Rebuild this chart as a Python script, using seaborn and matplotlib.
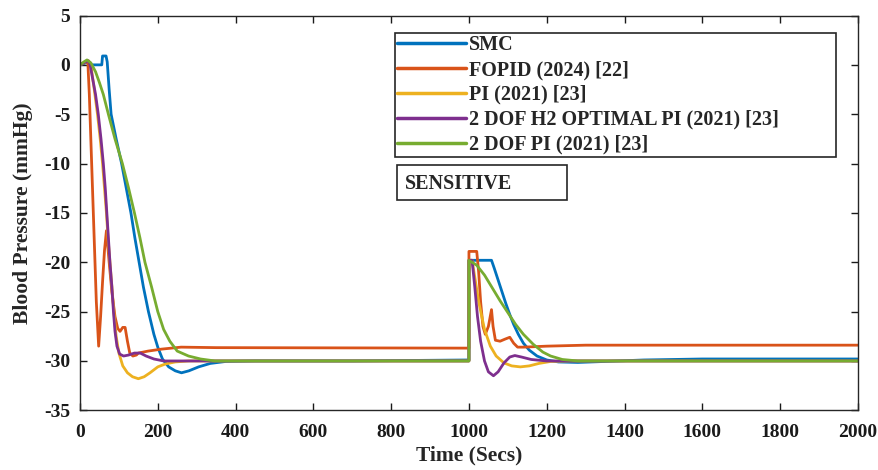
import matplotlib
matplotlib.use("Agg")
import matplotlib.pyplot as plt
import seaborn as sns
from matplotlib.patches import Rectangle

# readings from the reference chart (time in s, pressure change in mmHg)
smc_t = [0, 15, 22, 30, 56, 58, 67, 70, 75, 80, 93, 107, 119, 131, 141, 152, 163, 176, 190, 200,
         212, 228, 245, 261, 280, 305, 335, 375, 450, 700, 1000, 1000, 1058, 1065, 1075, 1085, 1095,
         1105, 1115, 1127, 1140, 1155, 1175, 1200, 1230, 1280, 1350, 1450, 1600, 2000]
smc_v = [0, 0.2, 0.3, 0, 0, 0.9, 0.9, 0.3, -2.5, -5, -7.5, -10, -12.5, -15, -17.5, -20, -22.5, -25, -27.3, -28.6,
         -29.8, -30.6, -31.0, -31.2, -31.0, -30.6, -30.25, -30.05, -30.0, -30.0, -29.9, -19.8, -19.8, -20.6, -21.8, -23.0, -24.2,
         -25.3, -26.3, -27.3, -28.2, -28.9, -29.5, -29.9, -30.1, -30.15, -30.05, -29.9, -29.8, -29.8]

fopid_t = [0, 15, 20, 24, 30, 36, 42, 48, 53, 58, 63, 68, 75, 82, 90, 97, 103, 110, 116, 122,
           128, 136, 145, 150, 175, 210, 260, 350, 1000, 1000, 1020, 1025, 1030, 1036, 1042, 1050, 1058,
           1062, 1068, 1080, 1092, 1105, 1115, 1125, 1140, 1200, 1300, 2000]
fopid_v = [0, 0.3, 0.4, -3, -10, -17, -24, -28.5, -25.5, -22, -18.8, -16.8, -20, -23, -25.5, -26.7, -27.0, -26.6, -26.6, -28,
           -29.2, -29.5, -29.4, -29.2, -29.0, -28.8, -28.6, -28.65, -28.7, -18.9, -18.9, -21, -24, -26.5, -27.3, -26.5, -24.8,
           -26.5, -27.9, -28.0, -27.8, -27.6, -28.2, -28.6, -28.6, -28.5, -28.4, -28.4]

pi_t = [0, 15, 22, 28, 35, 45, 52, 58, 63, 68, 72, 77, 82, 87, 93, 100, 110, 122, 135, 150,
        165, 180, 200, 220, 245, 280, 1000, 1000, 1008, 1015, 1025, 1040, 1055, 1070, 1090, 1110, 1132,
        1155, 1180, 1210, 1260, 2000]
pi_v = [0, 0.3, 0.4, 0, -2, -5, -7.5, -10, -12.5, -15, -17.5, -20, -22.5, -25, -27.5, -29.2, -30.5, -31.2, -31.6, -31.8,
        -31.6, -31.2, -30.6, -30.3, -30.1, -30.0, -30.0, -19.8, -19.8, -21.5, -24, -26.8, -28.5, -29.5, -30.2, -30.5, -30.6,
        -30.5, -30.25, -30.05, -30.0, -30.0]

h2_t = [0, 15, 22, 26, 33, 40, 47, 54, 60, 65, 69, 73, 77, 82, 86, 90, 95, 102, 112, 125,
        140, 155, 170, 190, 215, 1000, 1000, 1008, 1015, 1022, 1030, 1040, 1050, 1063, 1075, 1090, 1105,
        1118, 1135, 1160, 1200, 2000]
h2_v = [0, 0.3, 0.4, 0, -1.5, -3, -5, -7.5, -10, -12.5, -15, -17.5, -20, -22.5, -25, -27, -28.5, -29.3, -29.5, -29.4,
        -29.2, -29.2, -29.5, -29.8, -30.0, -30.0, -19.8, -19.8, -22.5, -25.5, -28, -30, -31.1, -31.5, -31.1, -30.2, -29.6,
        -29.45, -29.6, -29.85, -30.0, -30.0]

dof_t = [0, 10, 18, 28, 40, 50, 60, 73, 90, 109, 125, 140, 154, 167, 184, 200, 215, 231, 250, 279,
         310, 347, 400, 1000, 1000, 1020, 1040, 1060, 1080, 1100, 1120, 1140, 1165, 1190, 1210, 1240,
         1280, 2000]
dof_v = [0, 0.3, 0.5, 0.2, -0.7, -1.8, -3.0, -5, -7.5, -10, -12.5, -15, -17.5, -20, -22.5, -25, -26.8, -28, -29, -29.5,
         -29.8, -30.0, -30.0, -30.0, -19.8, -20.3, -21.3, -22.6, -23.9, -25.1, -26.3, -27.3, -28.3, -29.1, -29.5, -29.85,
         -30.0, -30.0]

series = [
    ("SMC", smc_t, smc_v, "#0072BD"),
    ("FOPID (2024) [22]", fopid_t, fopid_v, "#D95319"),
    ("PI (2021) [23]", pi_t, pi_v, "#EDB120"),
    ("2 DOF H2 OPTIMAL PI (2021) [23]", h2_t, h2_v, "#7E2F8E"),
    ("2 DOF PI (2021) [23]", dof_t, dof_v, "#77AC30"),
]

sns.set_style("ticks")
plt.rcParams["font.family"] = ["Liberation Serif", "DejaVu Serif"]
plt.rcParams["font.weight"] = "bold"
plt.rcParams["axes.unicode_minus"] = False

fig = plt.figure(figsize=(8.79, 4.70), dpi=100)
ax = fig.add_axes([0.091, 0.127, 0.885, 0.840])

for name, t, v, c in series:
    sns.lineplot(x=t, y=v, ax=ax, color=c, linewidth=2.0, label=name,
                 sort=False, estimator=None)

ax.set_xlim(0, 2000)
ax.set_ylim(-35, 5)
ax.set_xticks(range(0, 2001, 200))
ax.set_yticks(range(-35, 6, 5))
ax.tick_params(direction="in", top=True, right=True, length=5, width=1,
               labelsize=14, colors="#1a1a1a")
ax.tick_params(axis="x", pad=10)
ax.tick_params(axis="y", pad=7)
for lab in ax.get_xticklabels() + ax.get_yticklabels():
    lab.set_fontweight("bold")
for sp in ax.spines.values():
    sp.set_linewidth(1.0)
    sp.set_color("#262626")

ax.set_xlabel("Time (Secs)", fontsize=15.5, fontweight="bold", labelpad=3)
ax.set_ylabel("Blood Pressure (mmHg)", fontsize=15.5, fontweight="bold", labelpad=8)

leg = ax.legend(loc="upper left", bbox_to_anchor=(0.405, 0.645, 0.567, 0.311),
                mode="expand", fontsize=14.5,
                frameon=True, fancybox=False, edgecolor="#262626", framealpha=1,
                handlelength=3.4, handletextpad=0.15, labelspacing=0.24,
                borderpad=0.12, borderaxespad=0)
leg.get_frame().set_linewidth(1.2)
for line in leg.get_lines():
    line.set_linewidth(2.5)

ax.add_patch(Rectangle((0.4075, 0.533), 0.2185, 0.089, transform=ax.transAxes,
                       fill=False, edgecolor="#262626", linewidth=1.2))
ax.text(0.418, 0.574, "SENSITIVE", transform=ax.transAxes, fontsize=14.5,
        fontweight="bold", va="center", ha="left")

fig.savefig("out.png", dpi=100)
